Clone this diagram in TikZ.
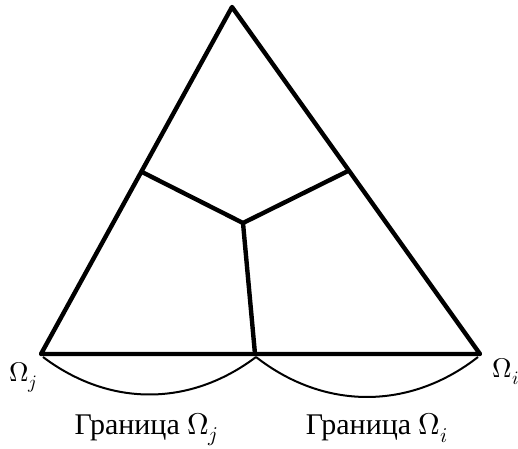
\documentclass[tikz,border=0pt]{standalone}
\usepackage{fontspec}
\usepackage{unicode-math}
\setmainfont{Liberation Serif}
\setmathfont{Latin Modern Math}
\usetikzlibrary{positioning}

\begin{document}
\begin{tikzpicture}[x=1pt,y=1pt,
edge/.style={line width=4.4pt,line join=round,line cap=round},
boundary/.style={line width=2pt},
vlabel/.style={font=\fontsize{27}{32}\selectfont},
blabel/.style={font=\fontsize{30}{36}\selectfont},]
\useasboundingbox (0,0) rectangle (518,448);
% vertices of the triangle
\coordinate (apex) at (232,441);
\coordinate (lv) at (41,94);
\coordinate (rv) at (480,94);
% inner partition
\coordinate (lside) at (142,276);
\coordinate (rside) at (348,277);
\coordinate (centre) at (243,225);
\coordinate (bottom) at (255,94);
\coordinate (lv') at (43,91);
\coordinate (bottom') at (256,91);
\coordinate (rv') at (478,91);

\draw[edge] (apex) -- (lv) -- (rv) -- cycle;
\draw[edge] (lside) -- (centre) -- (rside);
\draw[edge] (centre) -- (bottom);

\draw[boundary] (lv') to[bend right=37] coordinate[midway] (jmid) (bottom');
\draw[boundary] (bottom') to[bend right=38] coordinate[midway] (imid) (rv');

\node[vlabel,below left=5pt and 0pt of lv] (omj) {$\Omega_j$};
\node[vlabel,below right=1pt and 9pt of rv] (omi) {$\Omega_i$};
\node[blabel,below=15pt of jmid,xshift=-3pt] (granj) {Граница $\Omega_j$};
\node[blabel,below=13pt of imid,xshift=10pt] (grani) {Граница $\Omega_i$};
\end{tikzpicture}
\end{document}
